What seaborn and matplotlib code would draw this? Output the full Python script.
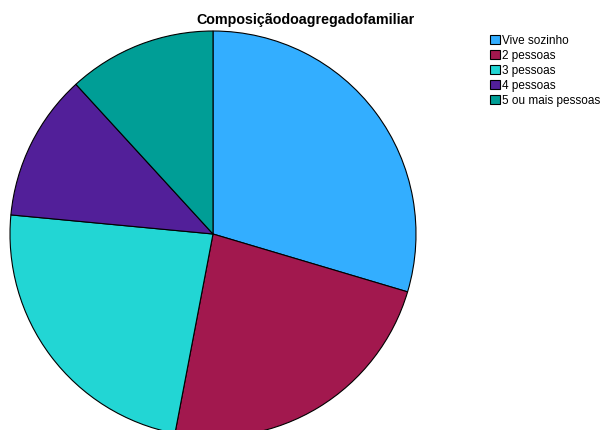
import matplotlib
matplotlib.use("Agg")
import matplotlib.pyplot as plt
import seaborn as sns

# ==========================================================
# DATA
# ==========================================================

categories = [
    "Vive sozinho",
    "2 pessoas",
    "3 pessoas",
    "4 pessoas",
    "5 ou mais pessoas"
]

percentages = [29.6, 23.4, 23.5, 11.7, 11.8]

slice_colors = ["#33AEFF", "#A2184E", "#22D6D4", "#521F99", "#009E96"]

chart_title = "Composiçãodoagregadofamiliar"

# ==========================================================
# PLOT
# ==========================================================

sns.set_style("white")
plt.rcParams["font.family"] = ["Liberation Sans", "DejaVu Sans"]
plt.rcParams["text.color"] = "black"

fig = plt.figure(figsize=(6.03, 4.31), dpi=100)
ax = fig.add_axes([0, 0, 1, 1])

wedges, _ = ax.pie(
    percentages,
    colors=slice_colors,
    startangle=90,
    counterclock=False,
    center=(213, 196),
    radius=203,
    wedgeprops=dict(edgecolor="black", linewidth=0.8),
    frame=True
)

ax.set_xlim(0, 603)
ax.set_ylim(0, 431)
ax.set_aspect("equal")
ax.axis("off")

fig.text(
    0.506, 0.953,
    chart_title,
    ha="center",
    va="center",
    fontsize=10.3,
    fontweight="bold",
    color="black"
)

fig.legend(
    wedges,
    categories,
    loc="upper left",
    bbox_to_anchor=(490 / 603, 1 - 35.5 / 431),
    frameon=False,
    fontsize=8.5,
    borderpad=0,
    borderaxespad=0,
    labelspacing=0.25,
    handlelength=0.85,
    handleheight=0.85,
    handletextpad=0.2,
    labelcolor="black"
)

plt.savefig("out.png", dpi=100)
plt.close()
